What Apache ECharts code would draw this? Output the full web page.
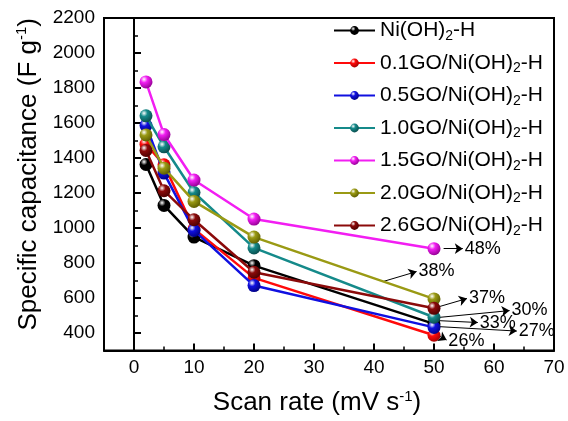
<!DOCTYPE html>
<html>
<head>
<meta charset="utf-8">
<script src="https://cdn.jsdelivr.net/npm/echarts@6/dist/echarts.min.js"></script>
<style>
html,body{margin:0;padding:0;background:#fff;}
#chart{width:568px;height:421px;}
</style>
</head>
<body>
<div id="chart"></div>
<script>
// ---- data ----
const scanRates = [2, 5, 10, 20, 50];
const seriesNames = [
  'Ni(OH)2-H', '0.1GO/Ni(OH)2-H', '0.5GO/Ni(OH)2-H', '1.0GO/Ni(OH)2-H',
  '1.5GO/Ni(OH)2-H', '2.0GO/Ni(OH)2-H', '2.6GO/Ni(OH)2-H'
];
const capNiOH  = [1363, 1129, 948, 785, 452];
const capGO01  = [1479, 1361, 995, 715, 387];
const capGO05  = [1586, 1314, 986, 671, 432];
const capGO10  = [1641, 1464, 1203, 886, 490];
const capGO15  = [1835, 1534, 1274, 1051, 882];
const capGO20  = [1532, 1342, 1152, 948, 595];
const capGO26  = [1443, 1213, 1047, 747, 541];
const xTickLabels = [0, 10, 20, 30, 40, 50, 60, 70];
const xMinorTicks = [5, 15, 25, 35, 45, 55, 65];
const yTickLabels = [400, 600, 800, 1000, 1200, 1400, 1600, 1800, 2000, 2200];
const yMinorTicks = [500, 700, 900, 1100, 1300, 1500, 1700, 1900, 2100];
// retention annotations: label, arrow start [x,y], arrow end [x,y] (data units)
const retentionLabels = ['48%', '38%', '37%', '30%', '33%', '27%', '26%'];
const arrowStarts = [[51.6, 882], [41.5, 694], [50.9, 551], [50.5, 488], [50.5, 471], [50.5, 437], [51.0, 380]];
const arrowEnds   = [[54.8, 882], [47.1, 751], [55.5, 597], [62.6, 528], [57.3, 460], [63.8, 411], [52.1, 360]];

// ---- styles ----
const allData = [capNiOH, capGO01, capGO05, capGO10, capGO15, capGO20, capGO26];
const colors = ['#000000', '#ff0a0a', '#1010e0', '#158a8a', '#f21ef2', '#9a9a14', '#8b0a0a'];
const darks  = ['#000000', '#a00000', '#000080', '#0a4a4a', '#900090', '#5a5a00', '#4a0000'];
const FONT = 'Liberation Sans, Arial, sans-serif';

function ball(i) {
  return new echarts.graphic.RadialGradient(0.35, 0.3, 0.75, [
    {offset: 0, color: '#ffffff'},
    {offset: 0.35, color: colors[i]},
    {offset: 1, color: darks[i]}
  ]);
}

const series = seriesNames.map((name, i) => ({
  name: name,
  type: 'line',
  xAxisIndex: 0,
  yAxisIndex: 0,
  data: scanRates.map((x, j) => [x, allData[i][j]]),
  symbol: 'circle',
  symbolSize: 13,
  lineStyle: {color: colors[i], width: 2.5},
  itemStyle: {color: ball(i), borderWidth: 0},
  z: 3 + i,
  animation: false
}));

series.push({
  name: 'retention',
  type: 'line',
  xAxisIndex: 0,
  yAxisIndex: 0,
  data: [],
  silent: true,
  markLine: {
    silent: true,
    animation: false,
    symbol: ['none', 'arrow'],
    symbolSize: 8,
    lineStyle: {color: '#000', width: 1, type: 'solid'},
    label: {show: true, position: 'end', distance: 2, color: '#000', fontSize: 18, fontFamily: FONT},
    data: retentionLabels.map((t, i) => [
      {coord: arrowStarts[i], name: t, label: {formatter: t}},
      {coord: arrowEnds[i]}
    ])
  }
});

const supStyle = {fontSize: 15, lineHeight: 14, padding: [0, 0, 12, 0], color: '#000', fontFamily: FONT};

const chart = echarts.init(document.getElementById('chart'), null, {renderer: 'canvas'});
chart.setOption({
  backgroundColor: '#ffffff',
  animation: false,
  textStyle: {fontFamily: FONT},
  grid: {left: 104, right: 14, top: 18, bottom: 70, show: true, borderColor: '#000', borderWidth: 2, backgroundColor: 'transparent'},
  legend: {
    data: seriesNames,
    orient: 'vertical',
    left: 328,
    top: 13,
    itemWidth: 41,
    itemHeight: 11,
    itemGap: 7.5,
    textStyle: {
      fontSize: 21, color: '#000', fontFamily: FONT, lineHeight: 24,
      rich: {s: {fontSize: 14, lineHeight: 12, padding: [11, 0, 0, 0], color: '#000', fontFamily: FONT}}
    },
    formatter: n => n.replace('(OH)2', '(OH){s|2}')
  },
  xAxis: [{
    type: 'value', min: -5, max: 70, position: 'bottom',
    name: 'Scan rate (mV s{sup|-1})', nameLocation: 'middle', nameGap: 39,
    nameTextStyle: {fontSize: 26, color: '#000', fontFamily: FONT, padding: [0, 24, 0, 0], rich: {sup: supStyle}},
    axisLine: {show: true, lineStyle: {color: '#000', width: 2}},
    axisTick: {show: true, inside: true, length: 7, lineStyle: {color: '#000', width: 2}, customValues: xTickLabels},
    axisLabel: {show: true, fontSize: 19, color: '#000', margin: 8, customValues: xTickLabels, formatter: v => String(v)},
    splitLine: {show: false}
  }, {
    type: 'value', min: -5, max: 70, position: 'bottom',
    axisLine: {show: false},
    axisTick: {show: true, inside: true, length: 4, lineStyle: {color: '#000', width: 1.5}, customValues: xMinorTicks},
    axisLabel: {show: false},
    splitLine: {show: false}
  }],
  yAxis: [{
    type: 'value', min: 300, max: 2200, position: 'left',
    name: 'Specific capacitance (F g{sup|-1})', nameLocation: 'middle', nameGap: 60, nameRotate: 90,
    nameTextStyle: {fontSize: 26, color: '#000', fontFamily: FONT, padding: [0, 0, 0, 20], rich: {sup: supStyle}},
    axisLine: {show: true, lineStyle: {color: '#000', width: 2}},
    axisTick: {show: true, inside: true, length: 7, lineStyle: {color: '#000', width: 2}, customValues: yTickLabels},
    axisLabel: {show: true, fontSize: 19, color: '#000', margin: 9, customValues: yTickLabels, formatter: v => String(v)},
    splitLine: {show: false}
  }, {
    type: 'value', min: 300, max: 2200, position: 'left',
    axisLine: {show: false},
    axisTick: {show: true, inside: true, length: 4, lineStyle: {color: '#000', width: 1.5}, customValues: yMinorTicks},
    axisLabel: {show: false},
    splitLine: {show: false}
  }],
  series: series
});
</script>
</body>
</html>
